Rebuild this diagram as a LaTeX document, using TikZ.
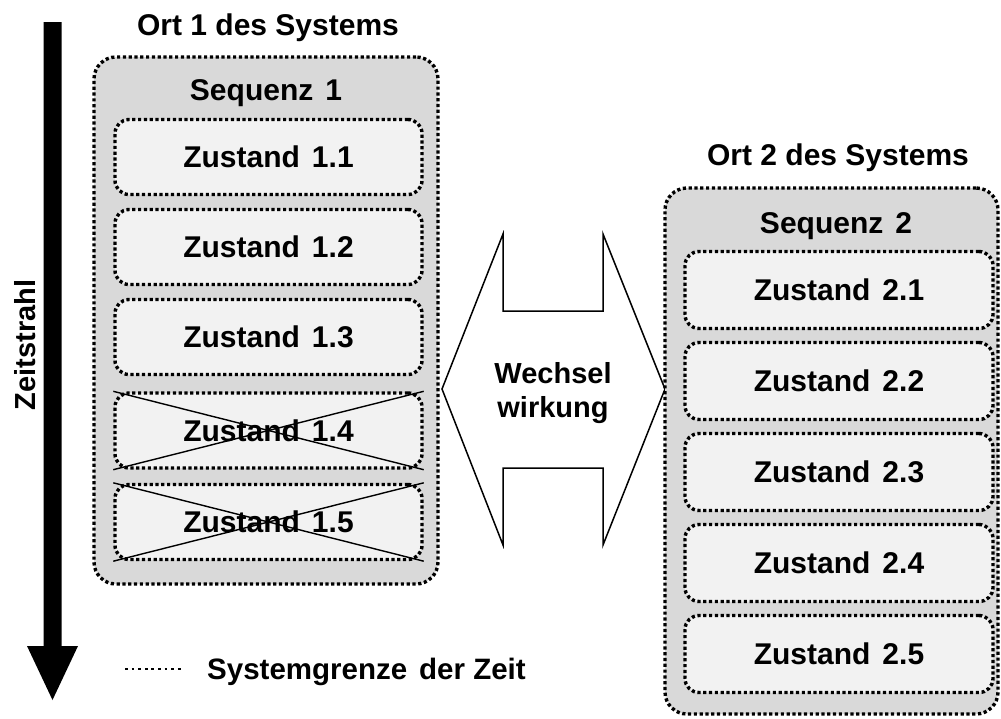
\documentclass[tikz,border=0pt]{standalone}
\usepackage{fontspec}
\setmainfont{Liberation Sans}
\definecolor{outerfill}{HTML}{D9D9D9}
\definecolor{innerfill}{HTML}{F2F2F2}
\newcommand{\wsp}{\hskip 12pt\relax}
\tikzset{
  border/.style={draw=black, line width=3.4pt, dash pattern=on 3.2pt off 2.6pt},
  outerbox/.style={border, fill=outerfill, rounded corners=22pt, inner sep=0pt},
  statebox/.style={border, fill=innerfill, rounded corners=14pt, inner sep=0pt,
    minimum width=307pt, minimum height=75pt, font=\bfseries\fontsize{30}{36}\selectfont},
  lbl/.style={inner sep=0pt, font=\bfseries\fontsize{30}{36}\selectfont},
  crossline/.style={draw=black, line width=1.4pt},
}
\begin{document}
\begin{tikzpicture}[x=1pt, y=-1pt]
\useasboundingbox (0,0) rectangle (1001,718);

% time axis
\fill[black] (43.5,22) -- (61.5,22) -- (61.5,646) -- (78,646) -- (52.5,700)
  -- (27,646) -- (43.5,646) -- cycle;
\node[lbl, font=\bfseries\fontsize{29}{34}\selectfont, rotate=90] (axis) at (25,345) {Zeitstrahl};

% location 1
\node[lbl, anchor=base] (ort1) at (268,35) {Ort 1 des Systems};
\node[outerbox, minimum width=344pt, minimum height=527pt] (seq1box) at (266,320.5) {};
\node[lbl, anchor=base] (seq1) at (266,100) {Sequenz\wsp 1};
\node[statebox] (z11) at (268.5,157) {Zustand\wsp 1.1};
\node[statebox] (z12) at (268.5,247) {Zustand\wsp 1.2};
\node[statebox] (z13) at (268.5,337) {Zustand\wsp 1.3};
\node[statebox] (z14) at (268.5,430.5) {Zustand\wsp 1.4};
\node[statebox] (z15) at (268.5,522) {Zustand\wsp 1.5};
\draw[crossline] (z14.north west) -- (z14.south east);
\draw[crossline] (z14.south west) -- (z14.north east);
\draw[crossline] (z15.north west) -- (z15.south east);
\draw[crossline] (z15.south west) -- (z15.north east);

% interaction arrow
\draw[line width=1.5pt, fill=white] (503,234) -- (442,389) -- (503,545) -- (503,468)
  -- (603,468) -- (603,545) -- (665,389) -- (603,234) -- (603,311) -- (503,311) -- cycle;
\node[lbl, align=center, font=\bfseries\fontsize{29}{34}\selectfont] (ww) at (553,393) {Wechsel\\wirkung};

% location 2
\node[lbl, anchor=base] (ort2) at (838,165) {Ort 2 des Systems};
\node[outerbox, minimum width=333pt, minimum height=526pt] (seq2box) at (831.5,451) {};
\node[lbl, anchor=base] (seq2) at (836,233) {Sequenz\wsp 2};
\node[statebox, minimum width=308pt, minimum height=77pt] (z21) at (839,290) {Zustand\wsp 2.1};
\node[statebox, minimum width=308pt, minimum height=77pt] (z22) at (839,381) {Zustand\wsp 2.2};
\node[statebox, minimum width=308pt, minimum height=77pt] (z23) at (839,472) {Zustand\wsp 2.3};
\node[statebox, minimum width=308pt, minimum height=77pt] (z24) at (839,563) {Zustand\wsp 2.4};
\node[statebox, minimum width=308pt, minimum height=77pt] (z25) at (839,654) {Zustand\wsp 2.5};

% legend
\coordinate (lgA) at (125,669);
\coordinate (lgB) at (184,669);
\draw[line width=2.8pt, dash pattern=on 2.8pt off 3.8pt] (lgA) -- (lgB);
\node[lbl, anchor=base west, font=\bfseries\fontsize{29.5}{35}\selectfont] (lgtext) at (207,679) {Systemgrenze\wsp der Zeit};
\end{tikzpicture}
\end{document}
